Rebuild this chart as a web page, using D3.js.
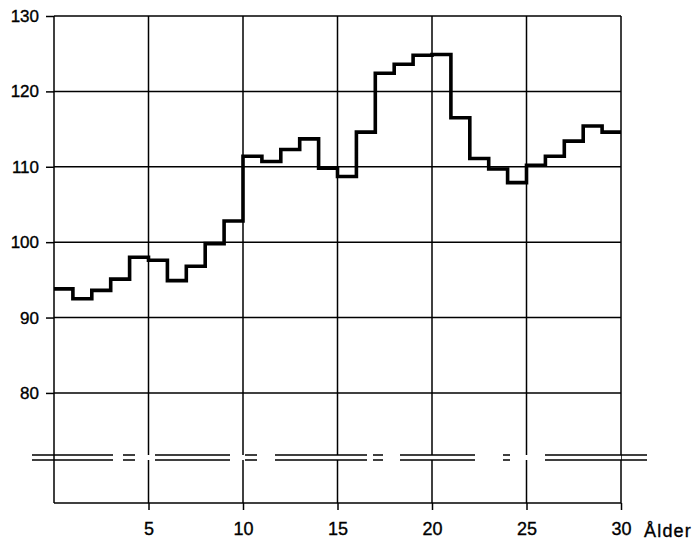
<!DOCTYPE html>
<html>
<head>
<meta charset="utf-8">
<script src="https://cdn.jsdelivr.net/npm/d3@7"></script>
<style>
    body { margin: 0; background: #fff; }
    svg { display: block; }
    text { font-family: "Liberation Sans", Arial, sans-serif; fill: #000; stroke: #000; stroke-width: 0.35px; }
</style>
</head>
<body>
<svg id="chart"></svg>
<script>
// ålder (start på varje år) och värde för samma år
const ages = [0, 1, 2, 3, 4, 5, 6, 7, 8, 9, 10, 11, 12, 13, 14, 15, 16, 17, 18, 19, 20, 21, 22, 23, 24, 25, 26, 27, 28, 29, 30];
const values = [93.8, 92.5, 93.6, 95.1, 98.0, 97.6, 94.9, 96.8, 99.8, 102.8,
                111.4, 110.7, 112.3, 113.7, 109.8, 108.7, 114.6, 122.4, 123.6, 124.8,
                124.9, 116.5, 111.1, 109.7, 107.9, 110.2, 111.4, 113.4, 115.4, 114.6];
const xTicks = [5, 10, 15, 20, 25, 30];
const yTicks = [80, 90, 100, 110, 120, 130];
const xGrid = [0, 5, 10, 15, 20, 25, 30];
const xLabel = "Ålder";

const width = 695;
const height = 541;

const svg = d3.select("#chart").attr("width", width).attr("height", height);

const x = d3.scaleLinear().domain([0, 30]).range([54, 621]);
const y = d3.scaleLinear().domain([65.4, 130]).range([503, 16]);

// rutnät
const grid = svg.append("g").attr("stroke", "#000").attr("stroke-width", 1.5);
grid.selectAll(".v")
    .data(xGrid)
    .join("line")
    .attr("x1", d => x(d)).attr("x2", d => x(d))
    .attr("y1", y.range()[0]).attr("y2", y.range()[1]);
grid.selectAll(".h")
    .data(yTicks)
    .join("line")
    .attr("x1", x(0)).attr("x2", x(30))
    .attr("y1", d => y(d)).attr("y2", d => y(d));
grid.append("line")
    .attr("x1", x(0)).attr("x2", x(30))
    .attr("y1", y.range()[0]).attr("y2", y.range()[0]);

// axlar
let axisY = d3.axisLeft(y).tickValues(yTicks).tickSize(8).tickPadding(7);
let gy = svg.append("g").attr("transform", "translate(" + x(0) + ",0)").call(axisY);
gy.select(".domain").remove();
gy.selectAll("line").attr("stroke-width", 1.5);
gy.selectAll("text").style("font-size", "17px");

let axisX = d3.axisBottom(x).tickValues(xTicks).tickSize(7).tickPadding(12);
let gx = svg.append("g").attr("transform", "translate(0," + y.range()[0] + ")").call(axisX);
gx.select(".domain").remove();
gx.selectAll("line").attr("stroke-width", 1.5);
gx.selectAll("text").style("font-size", "18px");

svg.append("text")
    .attr("x", x(30) + 23)
    .attr("y", y.range()[0] + 34)
    .style("font-size", "18px")
    .attr("letter-spacing", 1.2)
    .text(xLabel);

// axelbrott
const breakTop = 455, breakBottom = 460;
svg.append("rect")
    .attr("x", x(0) + 2).attr("width", x(30) - x(0) - 2)
    .attr("y", breakTop).attr("height", breakBottom - breakTop)
    .attr("fill", "#fff");
const breakDash = "81,10,12,20,75,15,12,18,92,6,10,17,75,28,7,35,102";
[breakTop, breakBottom].forEach(yy => {
    svg.append("line")
        .attr("x1", 32).attr("x2", 647)
        .attr("y1", yy).attr("y2", yy)
        .attr("stroke", "#000")
        .attr("stroke-width", 1.5)
        .attr("stroke-dasharray", breakDash);
});

// trappkurva
const points = ages.map((a, i) => [a, i < values.length ? values[i] : values[values.length - 1]]);
const line = d3.line()
    .x(d => x(d[0]))
    .y(d => y(d[1]))
    .curve(d3.curveStepAfter);

svg.append("path")
    .datum(points)
    .attr("d", line)
    .attr("fill", "none")
    .attr("stroke", "#000")
    .attr("stroke-width", 3.6)
    .attr("stroke-linejoin", "miter");
</script>
</body>
</html>
